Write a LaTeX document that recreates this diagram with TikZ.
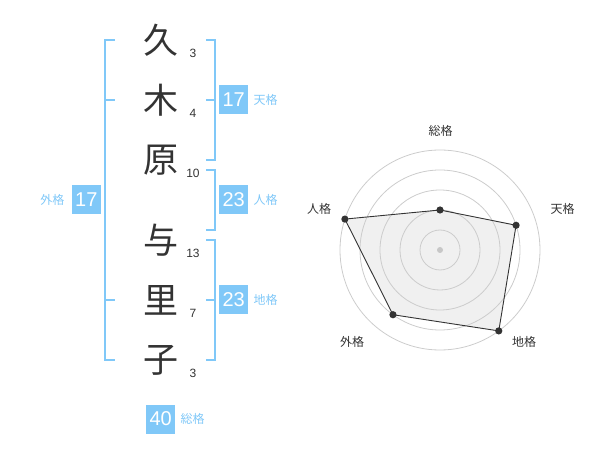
\documentclass[tikz,border=0pt]{standalone}
\usepackage{fontspec}
\setmainfont{Liberation Sans}
\newfontfamily\jp{Noto Sans CJK JP}
\usepackage{xcolor}
\usetikzlibrary{positioning}
\definecolor{kakublue}{HTML}{80C8F8}
\definecolor{kakutext}{HTML}{333333}

\tikzset{
	kanji/.style={font=\jp\fontsize{35}{35}\selectfont, text=kakutext, inner sep=0pt},
	stroke/.style={font=\fontsize{12}{12}\selectfont, text=kakutext, inner sep=0pt},
	kakubox/.style={fill=kakublue, text=white, font=\fontsize{20}{20}\selectfont, minimum width=29pt, minimum height=29pt, inner sep=0pt},
	kakulabel/.style={font=\jp\fontsize{12}{12}\selectfont, text=kakublue, inner sep=0pt},
	bracket/.style={draw=kakublue, line width=2pt},
	ring/.style={draw=black!20, line width=0.8pt},
	axislabel/.style={font=\jp\fontsize{12}{12}\selectfont, text=kakutext, inner sep=0pt},
	dot/.style={fill=kakutext},
}

\begin{document}
\begin{tikzpicture}[x=1pt, y=-1pt]
	\useasboundingbox (0,0) rectangle (600,470);

	% name and strokes
	\foreach \k/\y/\s [count=\i] in {久/40/3, 木/100/4, 原/160/10, 与/240/13, 里/300/7, 子/360/3} {
		\node[kanji] (c\i) at (161,\y) {\k};
		\node[stroke] (s\i) at (193,\y+13) {\s};
	}

	% brackets
	\draw[bracket] (115,40) -- (105,40) -- (105,360) -- (115,360);
	\draw[bracket] (105,100) -- (115,100) (105,300) -- (115,300);
	\draw[bracket] (206,40) -- (215,40) -- (215,160) -- (206,160);
	\draw[bracket] (206,100) -- (215,100);
	\draw[bracket] (206,170) -- (215,170) -- (215,230) -- (206,230);
	\draw[bracket] (206,240) -- (215,240) -- (215,360) -- (206,360);
	\draw[bracket] (206,300) -- (215,300);

	\coordinate (gai) at (105,200);
	\coordinate (ten) at (215,100);
	\coordinate (jin) at (215,200);
	\coordinate (chi) at (215,300);
	\coordinate (sou) at (146,419);

	% boxes
	\node[kakubox, left=4pt of gai] (gaibox) {17};
	\node[kakulabel, left=7pt of gaibox] (gailabel) {外格};
	\node[kakubox, right=4pt of ten] (tenbox) {17};
	\node[kakulabel, right=5pt of tenbox] (tenlabel) {天格};
	\node[kakubox, right=4pt of jin] (jinbox) {23};
	\node[kakulabel, right=5pt of jinbox] (jinlabel) {人格};
	\node[kakubox, right=4pt of chi] (chibox) {23};
	\node[kakulabel, right=5pt of chibox] (chilabel) {地格};
	\node[kakubox, right=0pt of sou] (soubox) {40};
	\node[kakulabel, right=5pt of soubox] (soulabel) {総格};

	% radar
	\begin{scope}[shift={(440,250)}, y=1pt]
		\coordinate (p1) at (90:40);
		\coordinate (p2) at (18:80);
		\coordinate (p3) at (-54:100);
		\coordinate (p4) at (-126:80);
		\coordinate (p5) at (162:100);
		\fill[black!6] (p1) -- (p2) -- (p3) -- (p4) -- (p5) -- cycle;
		\foreach \r in {20,40,...,100}
			\draw[ring] (0,0) circle (\r);
		\fill[black!22] (0,0) circle (3);
		\draw[kakutext, line width=0.9pt] (p1) -- (p2) -- (p3) -- (p4) -- (p5) -- cycle;
		\foreach \p in {p1,p2,p3,p4,p5}
			\fill[dot] (\p) circle (3.6);
	\end{scope}

	\node[axislabel] (ax1) at (440.5,131) {総格};
	\node[axislabel] (ax2) at (562.5,209) {天格};
	\node[axislabel] (ax3) at (524,342) {地格};
	\node[axislabel] (ax4) at (352,342) {外格};
	\node[axislabel] (ax5) at (319,209) {人格};

\end{tikzpicture}
\end{document}
